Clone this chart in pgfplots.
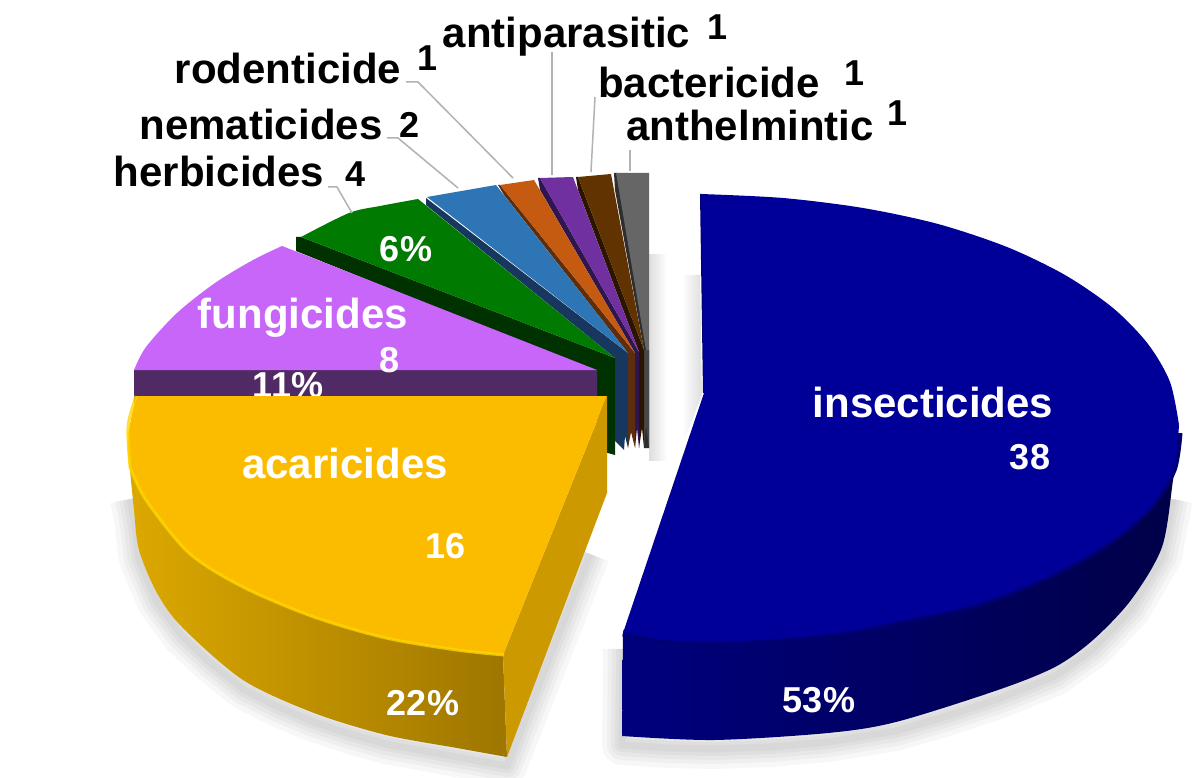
\documentclass[border=0pt]{standalone}
\usepackage{pgfplots}
\usepackage{pgfplotstable}
\usepackage{fontspec}
\setmainfont{Liberation Sans}
\pgfplotsset{compat=1.18}
\definecolor{cBrown}{RGB}{96,51,0}
\definecolor{cPurpleD}{RGB}{48,22,80}
\definecolor{cPurple}{RGB}{112,48,160}
\definecolor{cOrangeD}{RGB}{94,45,12}
\definecolor{cOrange}{RGB}{197,90,17}
\definecolor{cSteelD}{RGB}{23,55,94}
\definecolor{cSteel}{RGB}{46,117,182}
\definecolor{cGreenD}{RGB}{0,50,0}
\definecolor{cGreen}{RGB}{0,122,0}
\definecolor{cVioletD}{RGB}{80,42,100}
\definecolor{cViolet}{RGB}{200,102,250}
\definecolor{cGoldL}{RGB}{220,168,0}
\definecolor{cGoldM}{RGB}{196,150,0}
\definecolor{cGoldR}{RGB}{158,118,0}
\definecolor{cGoldC}{RGB}{204,153,0}
\definecolor{cGold}{RGB}{251,188,0}
\definecolor{cGoldH}{RGB}{255,214,0}
\definecolor{cBlueL}{RGB}{0,0,125}
\definecolor{cBlueM}{RGB}{0,0,76}
\definecolor{cBlueR}{RGB}{0,0,72}
\definecolor{cBlueH}{RGB}{0,0,115}
\definecolor{cBlue}{RGB}{0,0,153}
\definecolor{cBrownD}{RGB}{43,21,0}
\pgfplotstableread{
x y
130 490
134 510
139 550
157 593
182 627
212 655
243 680
278 698
314 713
350 725
386 735
457 748
507 757
590 545
}\goldedge
\pgfplotstableread{
x y
623 640
622 736
668 739
714 740
770 738
828 733
896 722
947 707
998 690
1055 667
1093 640
1131 600
1162 547
1173 490
}\blueedge
\pgfplotstableread{
x y
130 467
146 500
189 553
243 587
314 617
386 638
457 650
504 655
}\goldrim
\pgfplotstableread{
x y
623 633
665 640
714 642
790 638
850 631
904 620
980 603
1055 573
1112 540
1150 507
1173 470
1179 433
}\bluerim
\newcommand{\T}[4]{\node[anchor=base,text=#4,inner sep=0pt] at (axis cs:#1) {\fontsize{#2}{#2}\selectfont\bfseries #3};}
\pgfplotsset{f/.style={draw=none,fill=#1,forget plot}}
\begin{document}
\begin{tikzpicture}
\begin{axis}[
  scale only axis, width=1195pt, height=778pt,
  xmin=0, xmax=1195, ymin=0, ymax=778, y dir=reverse,
  hide axis, clip=true,
]
\addplot[f=white] coordinates {(0,0)(1195,0)(1195,778)(0,778)};
% soft shadow behind small slices
\addplot[draw=none,forget plot,shade,left color=black!13,right color=white] coordinates {(649,255)(667,255)(667,460)(649,460)};
\addplot[draw=none,forget plot,shade,left color=white,right color=black!13] coordinates {(682,275)(700,275)(702,395)(682,445)};
% shadows
\pgfplotsinvokeforeach{40,30,22,14,7}{
\addplot[draw=black,opacity=0.032,line width=#1pt,line join=round,forget plot] table[x=x,y expr=\thisrow{y}+9] {\goldedge};
\addplot[draw=black,opacity=0.032,line width=#1pt,line join=round,forget plot] table[x=x,y expr=\thisrow{y}+9] {\blueedge};
}
% grey slice
\addplot[f=black!82] coordinates {(614,173)(615,190)(644,350)(644,448)(649,448)(649,350)(617,173)};
\addplot[f=black!72] coordinates {(644,350)(649,350)(649,448)(646,425)(644,448)};
\addplot[f=black!60] coordinates {(616,173)(649,173)(649,350)(646,350)};
% brown slice
\addplot[f=cBrownD] coordinates {(576,177)(578,190)(639,352)(639,448)(642,428)(644,448)(644,350)(578,177)};
\addplot[f=cBrown] coordinates {(578,177)(611,174)(644,350)};
% purple slice
\addplot[f=cPurpleD] coordinates {(538,178)(540,190)(635,353)(635,448)(637,428)(639,448)(639,352)(540,178)};
\addplot[f=cPurple] coordinates {(540,178)(573,177)(639,352)};
% orange slice
\addplot[f=cOrangeD] coordinates {(498,185)(504,195)(628,353)(628,448)(631,432)(635,448)(635,353)(500,185)};
\addplot[f=cOrange] coordinates {(500,185)(534,180)(635,353)};
% steel blue slice
\addplot[f=cSteelD] coordinates {(426,198)(426,205)(615,358)(615,441)(624,450)(625,436)(628,448)(628,353)};
\addplot[f=cSteel] coordinates {(427,197)(496,185)(628,353)};
% green slice
\addplot[f=cGreenD] coordinates {(296,237)(296,251)(597,372)(597,450)(615,455)(615,358)(301,237)};
\addplot[f=cGreen] coordinates {(301,237)(360,214)(418,199)(615,358)};
\addplot[f=cGreen,smooth] coordinates {(301,237)(349,213)(380,206)(418,199)};
% violet slice
\addplot[f=cVioletD] coordinates {(134,370)(597,370)(597,405)(134,410)};
\addplot[f=cViolet] coordinates {(134,370)(215,292)(282,246)(597,370)};
\addplot[f=cViolet,smooth] coordinates {(134,370)(146,347)(177,313)(215,283)(253,260)(282,246)};
\T{406,262}{36}{6\%}{white}
\T{303,328}{42}{fungicides}{white}
\T{390,372}{36}{8}{white}
\T{288,397}{36}{11\%}{white}
% gold slice
\addplot[draw=none,forget plot,shade,left color=cGoldL,middle color=cGoldM,right color=cGoldR,smooth] coordinates {(129,460)(134,510)(139,550)(157,593)(182,627)(243,680)(314,713)(386,735)(457,748)(507,757)};
\addplot[draw=none,forget plot,shade,left color=cGoldL,middle color=cGoldM,right color=cGoldR] coordinates {(129,460)(503,655)(507,757)(318,625)};
\addplot[f=cGoldC] coordinates {(607,396)(607,493)(507,757)(503,655)};
\addplot[f=cGold] coordinates {(136,396)(607,396)(503,655)(300,590)(150,480)};
\addplot[f=cGold,smooth] coordinates {(136,396)(128,437)(130,467)(146,500)(189,553)(243,587)(314,617)(386,638)(457,650)(503,655)};
\addplot[draw=cGoldH,line width=3pt,opacity=0.8,smooth,forget plot] table[x=x,y=y] {\goldrim};
\addplot[draw=cGoldH,line width=3pt,opacity=0.8,smooth,forget plot] coordinates {(136,396)(129,420)(128,437)(130,467)};
% insecticide slice
\addplot[draw=none,forget plot,shade,left color=cBlueL,middle color=cBlueM,right color=cBlueR,smooth] coordinates {(622,736)(714,740)(828,733)(896,722)(998,690)(1055,667)(1093,640)(1131,600)(1162,547)(1173,480)(1179,433)};
\addplot[draw=none,forget plot,shade,left color=cBlueL,middle color=cBlueM,right color=cBlueR] coordinates {(622,736)(623,633)(1179,433)(900,600)};
\addplot[draw=cBlueH,line width=7pt,smooth,forget plot] table[x=x,y=y] {\bluerim};
\addplot[f=cBlueH] coordinates {(700,194)(703,393)(706,393)(702,194)};
\addplot[f=cBlue] coordinates {(701,194)(900,250)(1179,425)(1000,570)(760,625)(623,633)(704,393)};
\addplot[f=cBlue,smooth] coordinates {(701,194)(783,198)(863,208)(938,224)(1007,247)(1065,275)(1113,308)(1148,344)(1170,382)(1179,425)};
\addplot[f=cBlue,smooth] coordinates {(1179,425)(1173,470)(1150,507)(1112,540)(1055,573)(980,603)(904,620)(850,631)(790,638)(714,642)(665,640)(623,633)};
\T{933,417}{42}{insecticides}{white}
\T{1030,469}{36}{38}{white}
\T{819,712}{36}{53\%}{white}
\T{345,478}{42}{acaricides}{white}
\T{446,558}{36}{16}{white}
\T{423,715}{36}{22\%}{white}
% leader lines
\addplot[draw=black!30,line width=1.5pt,forget plot] coordinates {(552,52)(552,175)};
\addplot[draw=black!30,line width=1.5pt,forget plot] coordinates {(595,97)(591,172)};
\addplot[draw=black!30,line width=1.5pt,forget plot] coordinates {(630,150)(630,171)};
\addplot[draw=black!30,line width=1.5pt,forget plot] coordinates {(406,82)(418,82)(513,178)};
\addplot[draw=black!30,line width=1.5pt,forget plot] coordinates {(387,138)(398,138)(458,188)};
\addplot[draw=black!30,line width=1.5pt,forget plot] coordinates {(328,187)(337,187)(352,213)};
% outer labels
\T{566.5,48}{42}{antiparasitic}{black}
\T{718,40}{36}{1}{black}
\T{288,84}{42}{rodenticide}{black}
\T{428,71}{36}{1}{black}
\T{709,98}{42}{bactericide}{black}
\T{855,86}{36}{1}{black}
\T{750,141}{42}{anthelmintic}{black}
\T{898,126}{36}{1}{black}
\T{261,140}{42}{nematicides}{black}
\T{410,138}{36}{2}{black}
\T{219,187}{42}{herbicides}{black}
\T{356,187}{36}{4}{black}
\end{axis}
\end{tikzpicture}
\end{document}
